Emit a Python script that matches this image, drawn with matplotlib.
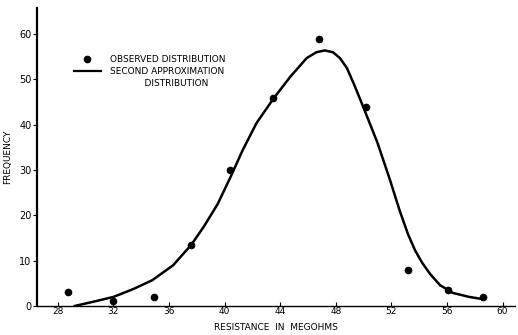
import numpy
from matplotlib import pyplot
from matplotlib.lines import Line2D

# observed frequencies (bin midpoints, megohms)
obs_x = [28.7, 32.0, 34.9, 37.6, 40.4, 43.5, 46.8, 50.2, 53.2, 56.1, 58.6]
obs_y = [3, 1, 2, 13.5, 30, 46, 59, 44, 8, 3.5, 2]

# second approximation curve
fit_x = [29.2, 30.5, 32.0, 33.4, 34.8, 36.3, 37.6, 38.5, 39.5, 40.4, 41.3,
         42.3, 43.5, 44.7, 45.9, 46.6, 47.2, 47.8, 48.3, 48.8, 49.3, 49.9,
         51.0, 51.9, 52.6, 53.2, 53.7, 54.2, 54.8, 55.5, 56.4, 57.6, 58.6]
fit_y = [0, 0.9, 2.0, 3.7, 5.7, 9.0, 13.5, 17.5, 22.5, 28.3, 34.4,
         40.4, 45.7, 50.5, 54.7, 56.0, 56.4, 56.0, 54.7, 52.5, 49.0, 44.5,
         36.0, 27.8, 21.0, 15.8, 12.3, 9.6, 7.0, 4.6, 2.9, 2.0, 1.5]

xticks = [28, 32, 36, 40, 44, 48, 52, 56, 60]
yticks = [0, 10, 20, 30, 40, 50, 60]

pyplot.rcParams["font.family"] = "DejaVu Sans"

fig = pyplot.figure(figsize=(5.18, 3.35), dpi=100)
axes = fig.add_axes([0.0714, 0.0866, 0.923, 0.89])

axes.plot(fit_x, fit_y, "k-", lw=1.8, solid_capstyle="round",
          solid_joinstyle="round")
axes.plot(obs_x, obs_y, "ko", ms=4.5)

axes.set_xlim(26.5, 60.9)
axes.set_ylim(0, 65.8)
axes.set_xticks(xticks)
axes.set_yticks(yticks)
axes.tick_params(axis="x", direction="in", length=3, width=0.8,
                 labelsize=6.5, pad=1)
axes.tick_params(axis="y", direction="out", length=3, width=0.8,
                 labelsize=7, pad=1)

for side in ["top", "right"]:
    axes.spines[side].set_visible(False)
axes.spines["left"].set_linewidth(1.6)
axes.spines["bottom"].set_linewidth(1.0)

axes.set_xlabel("RESISTANCE  IN  MEGOHMS", fontsize=6.5, labelpad=5)
axes.set_ylabel("FREQUENCY", fontsize=6.5, labelpad=5)

handles = [Line2D([], [], color="k", marker="o", ls="", ms=4.5),
           Line2D([], [], color="k", lw=1.6),
           Line2D([], [], color="none")]
labels = ["OBSERVED DISTRIBUTION",
          "SECOND APPROXIMATION",
          "            DISTRIBUTION"]
leg = axes.legend(handles, labels, loc="upper left",
                  bbox_to_anchor=(0.06, 0.87), frameon=False,
                  fontsize=6.5, handlelength=3.0, handletextpad=1.0,
                  labelspacing=0.35)

fig.savefig("out.png", dpi=100)
